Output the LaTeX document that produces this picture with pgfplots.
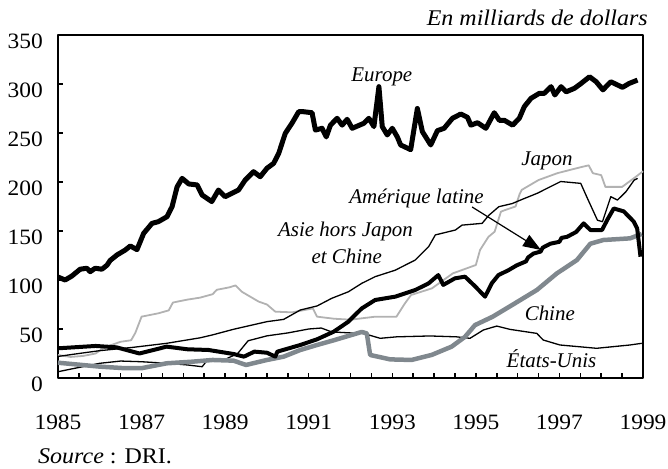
\documentclass[border=0pt]{standalone}
\usepackage{fontspec}
\setmainfont{Liberation Serif}
\newfontfamily\widefont{Liberation Serif}[FakeStretch=1.07]
\usepackage{pgfplots}
\pgfplotsset{compat=1.18}
\usetikzlibrary{arrows.meta,calc}
\definecolor{japgray}{RGB}{178,178,178}
\definecolor{chngray}{RGB}{128,136,142}
\begin{document}
\begin{tikzpicture}
\begin{axis}[
  scale only axis, width=585bp, height=343bp,
  xmin=1985, xmax=1999, ymin=0, ymax=350,
  xtick={1985,1987,...,1999},
  minor xtick={1985.5,1986,...,1998.5},
  ytick={0,50,...,350},
  xtick pos=lower, ytick pos=left,
  tick align=inside,
  major tick length=5.5bp, minor tick length=5.5bp,
  every tick/.style={black, line width=1.5bp},
  axis line style={line width=1.7bp},
  /pgf/number format/assume math mode=true,
  /pgf/number format/set thousands separator={},
  ticklabel style={font=\widefont\fontsize{22}{22}\selectfont},
  xticklabel style={anchor=base, inner sep=0pt, yshift=-51bp},
  yticklabel style={anchor=east, inner sep=0pt, xshift=-15bp, yshift=-6bp},
  clip=false,
  line join=round,
]
% Japon
\addplot[japgray, line width=1.8bp] coordinates {
(1985.00,23.5)(1985.3,21.5)(1985.6,22.5)(1985.9,25)(1986.1,31)(1986.3,34)(1986.5,37)(1986.75,38.5)(1986.85,46)
(1987.0,62.6)(1987.4,66)(1987.65,69)(1987.75,77)(1988.1,80)(1988.4,82)(1988.7,85.5)(1988.8,90)
(1989.1,92.5)(1989.25,94.5)(1989.4,88)(1989.8,78)(1990.0,75)(1990.2,67.7)(1990.6,67)(1991.1,71)
(1991.2,62.6)(1991.6,60.5)(1992.0,59.5)(1992.6,62.6)(1993.1,62.6)(1993.3,76)(1993.45,84.7)
(1993.95,91.5)(1994.45,106.8)(1995.0,115.3)(1995.1,130.6)(1995.3,144)(1995.45,149.3)(1995.6,169.7)
(1995.7,171.4)(1995.95,175)(1996.05,188)(1996.1,192)(1996.5,202)(1996.95,209)(1997.5,215)(1997.7,217)
(1997.8,209)(1998.0,207)(1998.1,195)(1998.5,195)(1998.85,206)(1999.0,211)
};
% Asie hors Japon et Chine
\addplot[black, line width=1.3bp] coordinates {
(1985.0,22)(1985.5,25)(1986.0,27.9)(1986.8,31.3)(1987.6,35.4)(1988.4,41)(1988.7,44)(1989.2,49.7)
(1990.0,57.5)(1990.4,59.8)(1990.8,69.4)(1991.2,73.5)(1991.55,81.3)(1991.95,88)(1992.27,96.6)
(1992.59,103.4)(1993.07,110)(1993.55,120.4)(1993.87,134)(1994.03,146)(1994.51,151)(1994.67,156)
(1995.15,157.8)(1995.31,166)(1995.55,174.8)(1995.87,178)(1996.07,181.6)(1996.47,188.5)(1997.03,200.5)
(1997.51,198.6)(1997.67,183.3)(1997.91,161)(1998.03,159.5)(1998.23,185)(1998.39,181.6)(1998.59,190)
(1998.79,202)(1998.87,203.7)
};
% Etats-Unis
\addplot[black, line width=1.3bp] coordinates {
(1985.0,6.4)(1985.4,9.9)(1986.0,15)(1986.5,17.3)(1987.0,16.6)(1987.6,15)(1988.1,13.3)(1988.45,11.5)
(1988.55,17)(1989.0,19)(1989.3,25)(1989.55,38)(1990.0,43)(1990.5,46)(1991.0,50)(1991.3,51)(1991.55,47)
(1992.0,46)(1992.31,45.5)(1992.71,40.5)(1993.1,42)(1993.9,42.9)(1994.54,42)(1994.86,40.5)(1995.18,49)
(1995.5,53)(1995.82,49.6)(1996.46,45.5)(1996.61,38.8)(1997.01,33.7)(1997.89,30.3)(1998.69,33.7)(1998.97,35.4)
};
% Chine
\addplot[chngray, line width=4.5bp] coordinates {
(1985.0,15.6)(1986.0,11.6)(1986.6,10)(1987.0,10)(1987.6,15)(1988.2,16.6)(1988.7,18.4)(1989.2,17.7)
(1989.5,13.3)(1990.0,18.4)(1990.4,21.8)(1990.8,28.6)(1991.2,33.7)(1991.6,38.5)(1992.27,47)(1992.39,45.5)
(1992.47,23.5)(1992.95,19)(1993.46,18.4)(1993.94,23.5)(1994.42,32)(1994.74,42)(1994.98,54)(1995.4,62.5)
(1995.85,74)(1996.46,89.8)(1996.94,106.8)(1997.42,120.4)(1997.74,137)(1998.05,140.8)(1998.69,142.5)(1998.97,147)
};
% Amerique latine
\addplot[black, line width=4bp] coordinates {
(1985.0,30.3)(1985.9,32.7)(1986.4,31.3)(1986.95,25)(1987.6,32)(1988.1,29.3)(1988.6,28.6)(1989.2,24.5)
(1989.45,21.8)(1989.7,26.9)(1990.0,25.8)(1990.2,21.8)(1990.25,26.9)(1990.8,33.7)(1991.2,39.5)(1991.6,47.3)
(1991.95,57.5)(1992.1,64)(1992.27,71)(1992.59,79.6)(1993.07,83)(1993.55,89.8)(1993.87,96.6)(1994.1,105)
(1994.22,95)(1994.5,101.7)(1994.74,103.4)(1994.98,93.6)(1995.22,83)(1995.38,96.6)(1995.54,105)
(1995.78,110)(1995.98,115)(1996.2,119)(1996.25,123)(1996.38,127)(1996.55,129)(1996.6,133)(1996.78,137)
(1997.0,139)(1997.05,143)(1997.18,144)(1997.4,149)(1997.58,157.8)(1997.74,151)(1998.02,151)(1998.14,161)
(1998.3,173)(1998.54,170)(1998.78,159.5)(1998.86,152.7)(1998.94,123.8)
};
% Europe
\addplot[black, line width=5bp] coordinates {
(1985.00,103)(1985.17,100)(1985.33,104)(1985.53,111)(1985.69,112)(1985.77,108.5)(1985.89,112)(1986.05,111)
(1986.17,115)(1986.25,120)(1986.41,125.5)(1986.61,130.6)(1986.73,134.7)(1986.89,131)(1987.05,147.6)
(1987.25,157.8)(1987.40,159.5)(1987.61,164.6)(1987.73,174.8)(1987.85,195)(1987.97,203.7)(1988.13,198)
(1988.33,197)(1988.45,186.7)(1988.68,180)(1988.84,191.8)(1989.00,185)(1989.16,188.4)(1989.32,191.8)
(1989.48,202)(1989.68,210.5)(1989.84,205.4)(1990.00,214)(1990.16,219)(1990.28,229)(1990.44,249.7)
(1990.60,260)(1990.76,271.7)(1990.88,271.7)(1991.08,270.7)(1991.16,253)(1991.32,254.8)(1991.42,246)
(1991.52,258)(1991.68,265)(1991.80,258)(1991.92,264)(1992.04,254.8)(1992.32,259.9)(1992.44,265)
(1992.56,256.5)(1992.68,297.3)(1992.76,256.5)(1992.88,248)(1993.00,254.8)(1993.12,246)(1993.20,237.8)
(1993.44,233)(1993.60,275)(1993.72,251.4)(1993.92,237.8)(1994.08,252.4)(1994.24,254.8)(1994.44,265)
(1994.64,269.4)(1994.80,266)(1994.88,258)(1995.04,260.5)(1995.24,254.8)(1995.44,270.7)(1995.56,263)
(1995.68,263)(1995.88,258)(1996.04,265)(1996.16,276.9)(1996.32,285.4)(1996.52,290.5)(1996.64,290.5)
(1996.80,297.3)(1996.89,288.8)(1997.04,297.3)(1997.16,292)(1997.36,295.6)(1997.52,300.6)(1997.72,307.4)
(1997.88,302.3)(1998.04,294)(1998.23,302.3)(1998.39,299)(1998.51,296.6)(1998.67,300.6)(1998.87,304)
};
\draw[-{Triangle[length=18bp,width=13bp]}, line width=1.2bp] (axis cs:1994.91,174.5) -- (axis cs:1996.56,130.6);
\begin{scope}[every node/.style={font=\fontsize{21}{21}\selectfont\itshape, inner sep=0pt}]
\node[anchor=base east, font=\widefont\fontsize{22.5}{22.5}\selectfont\itshape] at (axis cs:1999.12,360.2) {En milliards de dollars};
\node[anchor=base] at (axis cs:1992.75,302.3) {Europe};
\node[anchor=base] at (axis cs:1996.70,217.3) {Japon};
\node[anchor=base] at (axis cs:1993.58,178.3) {Amérique latine};
\node[anchor=base] at (axis cs:1991.88,144.2) {Asie hors Japon};
\node[anchor=base] at (axis cs:1991.91,117) {et Chine};
\node[anchor=base] at (axis cs:1996.77,58.5) {Chine};
\node[anchor=base] at (axis cs:1996.81,10.9) {États-Unis};
\end{scope}
\coordinate (sw) at (rel axis cs:0,0);
\end{axis}
\node[anchor=base west, inner sep=0pt, font=\widefont\fontsize{22.5}{22.5}\selectfont] at ($(sw)+(-20bp,-85bp)$) {\textit{Source} : DRI.};
\pgfresetboundingbox
\useasboundingbox ($(sw)+(-58bp,-91bp)$) rectangle ($(sw)+(610bp,378bp)$);
\end{tikzpicture}
\end{document}
